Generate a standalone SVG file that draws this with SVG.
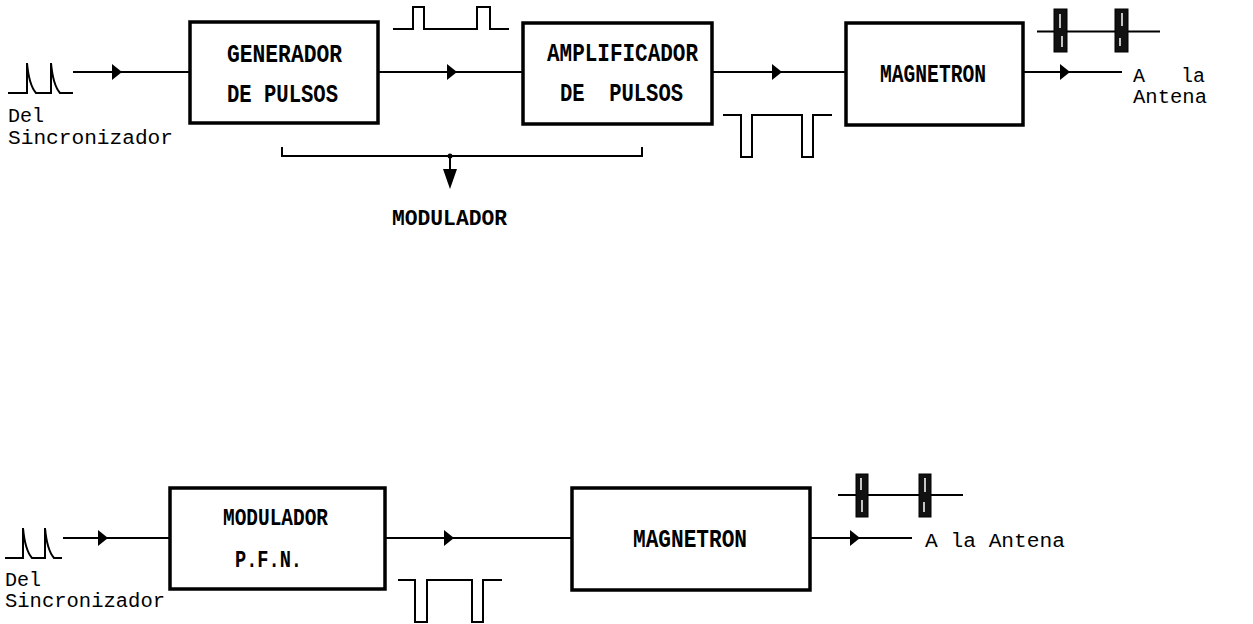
<svg xmlns="http://www.w3.org/2000/svg" xmlns:xlink="http://www.w3.org/1999/xlink" width="1253" height="624" viewBox="0 0 1253 624">
<style>
text{white-space:pre}
.box{fill:#fff;stroke:#000;stroke-width:3.5}
.ln{fill:none;stroke:#000;stroke-width:2}
.wav{fill:none;stroke:#000;stroke-width:2}
.bl{font-family:"Liberation Mono","DejaVu Sans Mono",monospace;font-weight:bold;fill:#000}
.lb{font-family:"Liberation Mono","DejaVu Sans Mono",monospace;font-size:20px;fill:#000}
.wg{fill:#111;stroke:#000;stroke-width:1}
.wgs{stroke:#fff;stroke-width:1.5}
</style>
<defs>
<path id="arR" d="M-10,-8 L0,0 L-10,8 Z" fill="#000"/>
<path id="arD" d="M-7,-20 L7,-20 L0,0 Z" fill="#000"/>
</defs>
<rect width="1253" height="624" fill="#fff"/>

<g id="connectors">
<path class="ln" d="M73,72 H190"/><use xlink:href="#arR" x="122" y="72"/>
<path class="ln" d="M378,72 H523"/><use xlink:href="#arR" x="457" y="72"/>
<path class="ln" d="M712,72 H846"/><use xlink:href="#arR" x="782" y="72"/>
<path class="ln" d="M1023,72 H1122"/><use xlink:href="#arR" x="1070" y="72"/>
<path class="ln" d="M282,147 V156 H642 V147"/>
<circle cx="450" cy="156" r="2.5" fill="#000"/>
<path class="ln" d="M450,156 V172"/><use xlink:href="#arD" x="450" y="189"/>
<path class="ln" d="M63,538 H170"/><use xlink:href="#arR" x="108" y="538"/>
<path class="ln" d="M385,538 H572"/><use xlink:href="#arR" x="454" y="538"/>
<path class="ln" d="M810,538 H912"/><use xlink:href="#arR" x="860" y="538"/>
</g>

<g id="waveforms">
<path class="wav" d="M8,93 H27 V63 Q29,85 36,93 H51 V63 Q53,85 60,93 H73"/>
<path class="wav" d="M393,29 H413 V7 H424 V29 H477 V7 H490 V29 H509"/>
<path class="wav" d="M723,115 H741 V157 H752 V115 H802 V157 H813 V115 H832"/>
<path class="wav" d="M5,558 H23 V528 Q25,550 32,558 H45 V528 Q47,550 54,558 H62"/>
<path class="wav" d="M398,580 H415 V622 H427 V580 H472 V622 H483 V580 H502"/>
</g>

<g id="waveguide-top">
<path class="ln" d="M1037,31.5 H1160"/>
<rect class="wg" x="1054" y="9" width="13" height="43"/>
<path class="wgs" d="M1060,14 V28 M1062,36 V47"/>
<rect class="wg" x="1115" y="9" width="13" height="43"/>
<path class="wgs" d="M1122,13 V26 M1120,38 V46"/>
</g>
<g id="waveguide-bottom">
<path class="ln" d="M838,495 H963"/>
<rect class="wg" x="856" y="474" width="12" height="43"/>
<path class="wgs" d="M861,478 V490 M862,500 V512"/>
<rect class="wg" x="919" y="474" width="12" height="43"/>
<path class="wgs" d="M925,478 V492 M924,502 V512"/>
</g>

<g id="generador">
<rect class="box" x="190" y="22" width="188" height="101"/>
<text class="bl" x="227" y="62" font-size="25" textLength="115" lengthAdjust="spacingAndGlyphs">GENERADOR</text>
<text class="bl" x="227" y="102" font-size="25" textLength="111" lengthAdjust="spacingAndGlyphs">DE PULSOS</text>
</g>
<g id="amplificador">
<rect class="box" x="523" y="23" width="189" height="101"/>
<text class="bl" x="547" y="61" font-size="25" textLength="151" lengthAdjust="spacingAndGlyphs">AMPLIFICADOR</text>
<text class="bl" x="560" y="101" font-size="25" textLength="123" lengthAdjust="spacingAndGlyphs" xml:space="preserve">DE  PULSOS</text>
</g>
<g id="magnetron-top">
<rect class="box" x="846" y="23" width="177" height="102"/>
<text class="bl" x="880" y="82" font-size="25" textLength="106" lengthAdjust="spacingAndGlyphs">MAGNETRON</text>
</g>
<g id="modulador-label">
<text class="bl" x="392" y="225" font-size="22" textLength="115" lengthAdjust="spacingAndGlyphs">MODULADOR</text>
</g>
<g id="labels-top">
<text class="lb" x="8" y="122">Del</text>
<text class="lb" x="8" y="144" textLength="165" lengthAdjust="spacingAndGlyphs">Sincronizador</text>
<text class="lb" x="1133" y="82" xml:space="preserve">A   la</text>
<text class="lb" x="1133" y="103" textLength="74" lengthAdjust="spacingAndGlyphs">Antena</text>
</g>

<g id="modulador-pfn">
<rect class="box" x="170" y="488" width="215" height="101"/>
<text class="bl" x="223" y="525" font-size="24" textLength="105" lengthAdjust="spacingAndGlyphs">MODULADOR</text>
<text class="bl" x="235" y="567" font-size="24" textLength="67" lengthAdjust="spacingAndGlyphs">P.F.N.</text>
</g>
<g id="magnetron-bottom">
<rect class="box" x="572" y="488" width="238" height="102"/>
<text class="bl" x="633" y="547" font-size="25" textLength="114" lengthAdjust="spacingAndGlyphs">MAGNETRON</text>
</g>
<g id="labels-bottom">
<text class="lb" x="5" y="586">Del</text>
<text class="lb" x="5" y="607" textLength="160" lengthAdjust="spacingAndGlyphs">Sincronizador</text>
<text class="lb" x="925" y="547" textLength="140" lengthAdjust="spacingAndGlyphs">A la Antena</text>
</g>
</svg>
